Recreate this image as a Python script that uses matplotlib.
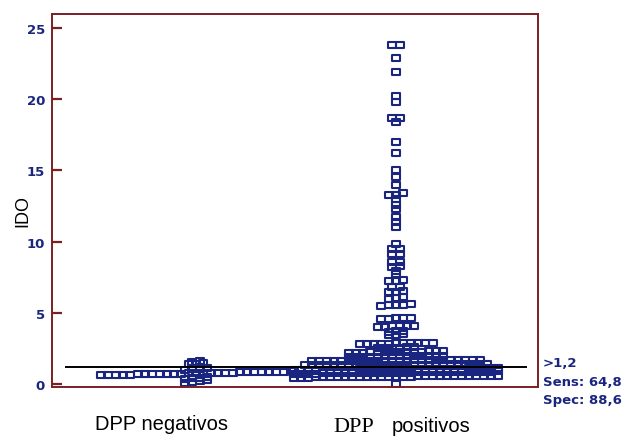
import numpy as np
import matplotlib
matplotlib.use("Agg")
import matplotlib.pyplot as plt
from matplotlib.path import Path

# ---------------- data ----------------
groups = ["DPP negativos", "DPP positivos"]
cutoff = 1.2
stats_text = [">1,2", "Sens: 64,8", "Spec: 88,6"]
yticks = [0, 5, 10, 15, 20, 25]

neg_values = [
    1.62, 1.58,
    1.42, 1.38, 1.45,
    1.05, 1.10, 1.00, 1.08,
    0.62, 0.78, 0.66, 0.84, 0.70, 0.88, 0.64, 0.80, 0.74, 0.86,
    0.68, 0.82, 0.63, 0.77, 0.72, 0.87, 0.65, 0.81, 0.69, 0.85,
    0.71, 0.79, 0.67, 0.83, 0.75, 0.73, 0.76,
    0.45, 0.40, 0.50, 0.35,
    0.15, 0.20, 0.10, 0.25,
]

pos_values = [
    23.8, 23.8, 22.9, 21.9, 20.2, 19.8, 18.7, 18.7, 18.4, 17.0,
    16.2, 15.0, 14.5, 14.0, 13.4, 13.3, 13.3, 13.0, 12.6, 12.3,
    11.7, 11.4, 11.0, 9.8, 9.5, 9.5, 9.1, 9.1, 8.6, 8.6,
    8.3, 8.2, 7.9, 7.7, 7.25, 7.25, 7.3, 6.8, 6.8, 6.45,
    6.45, 6.5, 6.05, 6.1, 6.0,
    5.55, 5.5, 5.6, 5.52, 5.58,
    4.6, 4.62, 4.58, 4.65, 4.55,
    4.05, 4.0, 4.1, 4.02, 4.08, 4.06,
    3.7, 3.72, 3.68, 3.45, 3.42, 3.48,
    2.85, 2.8, 2.88, 2.82, 2.86, 2.9, 2.84, 2.87, 2.81, 2.89, 2.83,
    2.55, 2.52, 2.58, 2.5, 2.6, 2.56,
    2.25, 2.2, 2.28, 2.22, 2.3, 2.24, 2.26, 2.21, 2.29, 2.23, 2.27, 2.25, 2.2, 2.3,
    1.95, 1.9, 1.98, 1.92, 2.0, 1.94, 1.96, 1.91, 1.99, 1.93, 1.97, 1.95, 1.9, 2.0,
    1.65, 1.6, 1.68, 1.62, 1.7, 1.64, 1.66, 1.61, 1.69, 1.63, 1.67, 1.65,
    1.6, 1.7, 1.66, 1.64, 1.62, 1.68, 1.61, 1.69, 1.63, 1.67, 1.65, 1.64,
    1.35, 1.3, 1.38, 1.32, 1.4, 1.34, 1.36, 1.31, 1.39, 1.33, 1.37, 1.35, 1.3,
    1.4, 1.36, 1.34, 1.32, 1.38, 1.31, 1.39, 1.33, 1.37, 1.35, 1.34, 1.36, 1.33,
    1.05, 1.0, 1.1, 0.95, 1.08, 1.02, 1.12, 0.98, 1.06, 1.04, 1.1, 0.96, 1.08, 1.0, 1.05,
    1.03, 1.11, 0.97, 1.07, 1.01, 1.09, 0.99, 1.06, 1.04, 1.02, 1.08, 1.0, 1.05, 1.03,
    0.8, 0.75, 0.85, 0.7, 0.82, 0.78, 0.88, 0.72, 0.8, 0.76, 0.84, 0.74, 0.86, 0.79, 0.81,
    0.77, 0.83, 0.73, 0.87, 0.71, 0.8, 0.78, 0.82, 0.76, 0.84, 0.75, 0.85, 0.79, 0.81,
    0.55, 0.5, 0.58, 0.45, 0.52, 0.48, 0.56, 0.42, 0.54, 0.5, 0.57, 0.46, 0.53, 0.49, 0.55,
    0.51, 0.47, 0.56, 0.44, 0.52, 0.5, 0.58, 0.48, 0.54, 0.46, 0.53, 0.5, 0.55, 0.49,
    0.0,
]

# ---------------- layout helpers ----------------
def dot_positions(values, center, bin_width, dx):
    vals = np.sort(np.asarray(values, dtype=float))
    bins = np.floor(vals / bin_width + 1e-9).astype(int)
    xs = np.empty_like(vals)
    for b in np.unique(bins):
        idx = np.where(bins == b)[0]
        n = len(idx)
        offs = (np.arange(n) - (n - 1) / 2.0) * dx
        xs[idx] = center + offs
    return xs, vals

W, H = 630, 439
fig = plt.figure(figsize=(W / 100, H / 100), dpi=100)
ax = fig.add_axes([52 / W, 1 - 388 / H, (538 - 52) / W, (388 - 15) / H])

maroon = "#7a1f24"
navy = "#1a2580"

ax.set_xlim(0.28, 2.71)
ax.set_ylim(-0.21, 25.98)

rect = Path([(-1, -0.8), (1, -0.8), (1, 0.8), (-1, 0.8), (-1, -0.8)],
            [Path.MOVETO, Path.LINETO, Path.LINETO, Path.LINETO, Path.CLOSEPOLY])

for center, vals in zip([1, 2], [neg_values, pos_values]):
    xs, ys = dot_positions(vals, center, 0.3, 0.0365)
    ax.plot(xs, ys, linestyle="none", marker=rect, markersize=6.0,
            markerfacecolor="none", markeredgecolor=navy, markeredgewidth=1.5,
            zorder=2)

ax.hlines(cutoff, 0.345, 2.655, color="black", linewidth=1.4, zorder=3)

for s in ax.spines.values():
    s.set_color(maroon)
    s.set_linewidth(1.4)

ax.set_xticks([])
ax.set_yticks(yticks)
ax.set_yticklabels([str(t) for t in yticks])
ax.tick_params(axis="y", direction="in", length=7, width=1.6, color=maroon,
               labelcolor=navy, labelsize=9.5, pad=5)
for lab in ax.get_yticklabels():
    lab.set_fontweight("bold")

fig.text(23 / W, 1 - 211 / H, "IDO", rotation=90, ha="center", va="center",
         fontsize=13, family="Liberation Sans")

fig.text(95 / W, 1 - 425 / H, groups[0], ha="left", va="center",
         fontsize=14.5, family="Liberation Sans")
fig.text(333 / W, 1 - 428 / H, "DPP", ha="left", va="center",
         fontsize=16, family="Liberation Serif")
fig.text(392 / W, 1 - 427 / H, groups[1].split()[1], ha="left", va="center",
         fontsize=14.5, family="Liberation Sans")

for i, t in enumerate(stats_text):
    fig.text(543 / W, 1 - (364 + i * 18.5) / H, t, ha="left", va="center",
             fontsize=9.5, color=navy, fontweight="bold", family="DejaVu Sans")

fig.savefig("out.png", dpi=100)
